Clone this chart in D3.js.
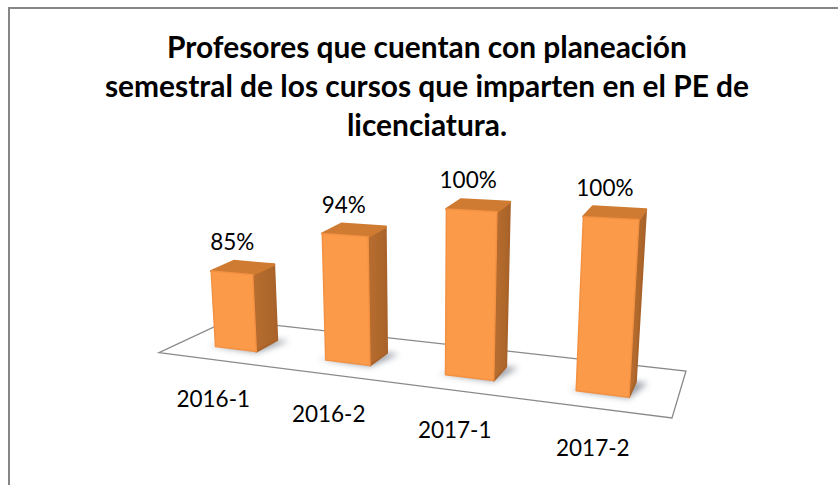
<!DOCTYPE html>
<html>
<head>
<meta charset="utf-8">
<script src="https://cdn.jsdelivr.net/npm/d3@7"></script>
<style>
  html, body { margin: 0; padding: 0; background: #fff; overflow: hidden; }
  text { font-family: Lato, "Open Sans", sans-serif; fill: #000; }
</style>
</head>
<body>
<svg width="838" height="485"></svg>
<script>
var categories = ['2016-1', '2016-2', '2017-1', '2017-2'];
var values = [85, 94, 100, 100];
var valueLabels = ['85%', '94%', '100%', '100%'];
var titleLines = ['Profesores que cuentan con planeación',
    'semestral de los cursos que imparten en el PE de',
    'licenciatura.'];

var svg = d3.select('svg');

// floor of the 3d chart, as seen on screen
var floor = {fl: [159, 352.7], fr: [672, 418], br: [686, 371], bl: [229, 320]};

// homography from the unit square to the floor quad
function makeHomography(q) {
    var dx1 = q.fr[0] - q.br[0], dx2 = q.bl[0] - q.br[0], sx = q.fl[0] - q.fr[0] + q.br[0] - q.bl[0];
    var dy1 = q.fr[1] - q.br[1], dy2 = q.bl[1] - q.br[1], sy = q.fl[1] - q.fr[1] + q.br[1] - q.bl[1];
    var det = dx1 * dy2 - dx2 * dy1;
    var g = (sx * dy2 - dx2 * sy) / det;
    var h = (dx1 * sy - sx * dy1) / det;
    return function(u, v) {
        var w = g * u + h * v + 1;
        return [(q.fl[0] + (q.fr[0] - q.fl[0] + g * q.fr[0]) * u + (q.bl[0] - q.fl[0] + h * q.bl[0]) * v) / w,
                (q.fl[1] + (q.fr[1] - q.fl[1] + g * q.fr[1]) * u + (q.bl[1] - q.fl[1] + h * q.bl[1]) * v) / w];
    };
}
var onFloor = makeHomography(floor);

var x = d3.scaleBand().domain(categories).range([0, 1]).paddingInner(0.62).paddingOuter(0.33);
var y = d3.scaleLinear().domain([70, 100]).range([0, 1]);
var z = d3.scaleLinear().domain([0, 1]).range([0.29, 0.62]);

// screen position for u along the axis, h in 0..1 of the value axis, d in 0..1 of the depth
function project(u, h, d) {
    var p = onFloor(u, z(d));
    var front = onFloor(u, z(0));
    var tall = (151 + (p[0] - 213) * 0.0634) * h;
    // the box top looks flatter than its footprint
    var py = front[1] + (p[1] - front[1]) * (1 - 0.35 * h);
    return [p[0] + (p[0] - 425) * 0.000273 * tall, py - tall];
}

function bar(d) {
    var u0 = x(d.cat), u1 = u0 + x.bandwidth(), h = y(d.val);
    return {
        fl0: project(u0, 0, 0), fr0: project(u1, 0, 0), br0: project(u1, 0, 1),
        fl1: project(u0, h, 0), fr1: project(u1, h, 0), br1: project(u1, h, 1), bl1: project(u0, h, 1)
    };
}

var line = d3.line();
var data = categories.map(function(c, i) { return {cat: c, val: values[i], label: valueLabels[i]}; });

var defs = svg.append('defs');
defs.append('filter').attr('id', 'soft').attr('x', '-30%').attr('y', '-60%').attr('width', '160%').attr('height', '220%')
    .append('feGaussianBlur').attr('stdDeviation', 3);
defs.append('filter').attr('id', 'edge').attr('x', '-5%').attr('y', '-5%').attr('width', '110%').attr('height', '110%')
    .append('feGaussianBlur').attr('stdDeviation', 0.6);
var grad = defs.append('linearGradient').attr('id', 'sideFill').attr('x1', 0).attr('x2', 1).attr('y1', 0).attr('y2', 0);
grad.append('stop').attr('offset', '0%').attr('stop-color', '#b86e2f');
grad.append('stop').attr('offset', '100%').attr('stop-color', '#a9632a');

// top and left edge of the chart frame
svg.append('path').attr('d', 'M9,485V8H838')
    .attr('fill', 'none').attr('stroke', '#868686').attr('stroke-width', 2);

// title
svg.append('g').selectAll('text').data(titleLines).enter().append('text')
    .attr('x', 427)
    .attr('y', function(d, i) { return 57.7 + i * 39.2; })
    .attr('text-anchor', 'middle')
    .attr('font-size', 29.9)
    .attr('font-weight', 700)
    .text(function(d) { return d; });

// floor
svg.append('path')
    .attr('d', line([floor.fl, floor.fr, floor.br, floor.bl]) + 'Z')
    .attr('fill', '#fff').attr('stroke', '#8a8a8a').attr('stroke-width', 1.3);

// category labels sit below the front edge of the floor
svg.append('g').selectAll('text').data(data).enter().append('text')
    .attr('x', function(d) { return onFloor(x(d.cat) + x.bandwidth() / 2, 0)[0] - 2; })
    .attr('y', function(d) { return onFloor(x(d.cat) + x.bandwidth() / 2, 0)[1] + 47.5; })
    .attr('text-anchor', 'middle')
    .attr('font-size', 22.5)
    .text(function(d) { return d.cat; });

// shadows
svg.append('g').selectAll('path').data(data).enter().append('path')
    .attr('d', function(d) {
        var b = bar(d);
        return line([[b.fl0[0] - 7, b.fl0[1] - 1], [b.fr0[0], b.fr0[1] + 1], [b.br0[0] + 12, b.br0[1] + 1], b.br0]) + 'Z';
    })
    .attr('fill', '#868c95').attr('opacity', 0.85).attr('filter', 'url(#soft)');

var bars = svg.append('g').selectAll('g').data(data).enter().append('g').attr('class', 'bar')
    .attr('filter', 'url(#edge)');

bars.append('path')   // side
    .attr('d', function(d) { var b = bar(d); return line([b.fr0, b.br0, b.br1, b.fr1]) + 'Z'; })
    .attr('fill', 'url(#sideFill)').attr('stroke', '#a9632a').attr('stroke-width', 2).attr('stroke-linejoin', 'round');

bars.append('path')   // top
    .attr('d', function(d) { var b = bar(d); return line([b.fl1, b.fr1, b.br1, b.bl1]) + 'Z'; })
    .attr('fill', '#cf7b33').attr('stroke', '#cf7b33').attr('stroke-width', 2.5).attr('stroke-linejoin', 'round');

bars.append('path')   // front
    .attr('d', function(d) { var b = bar(d); return line([b.fl0, b.fr0, b.fr1, b.fl1]) + 'Z'; })
    .attr('fill', '#fb9a4a').attr('stroke', '#f39143').attr('stroke-width', 1.5).attr('stroke-linejoin', 'round');

// value labels
svg.append('g').selectAll('text').data(data).enter().append('text')
    .attr('x', function(d) { var b = bar(d); return (b.bl1[0] + b.fr1[0]) / 2 - 11; })
    .attr('y', function(d) { return bar(d).bl1[1] - 11; })
    .attr('text-anchor', 'middle')
    .attr('font-size', 22.5)
    .text(function(d) { return d.label; });
</script>
</body>
</html>
